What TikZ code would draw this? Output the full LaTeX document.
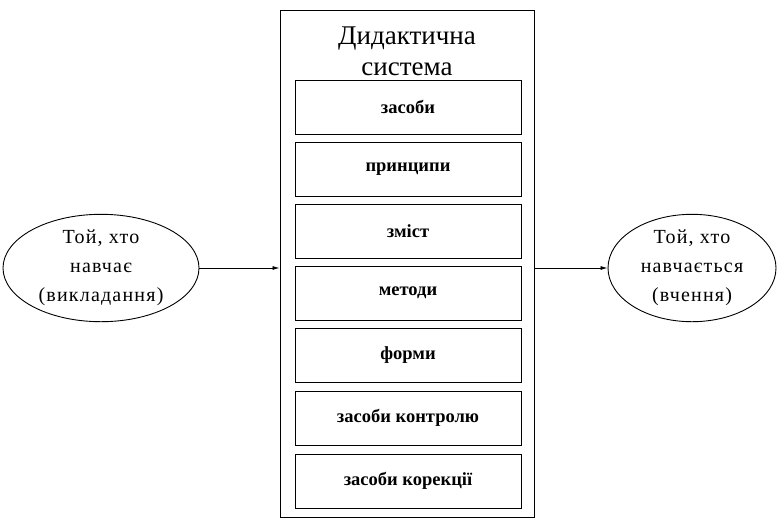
\documentclass[tikz,border=0pt]{standalone}
\usepackage{fontspec}
\setmainfont{Liberation Serif}
\newfontfamily\spacedserif[LetterSpace=6]{Liberation Serif}
\usetikzlibrary{shapes.geometric,arrows.meta}
\begin{document}
\begin{tikzpicture}[x=1pt,y=-1pt,
  outerbox/.style={draw,line width=0.9pt},
  itembox/.style={draw,line width=0.9pt,minimum width=226pt,minimum height=54pt,inner sep=0pt,font=\fontsize{18.5}{20}\selectfont\bfseries},
  actor/.style={draw,ellipse,line width=0.9pt,inner sep=0pt,align=center,font=\spacedserif\fontsize{20}{29}\selectfont},
  flow/.style={-{Latex[length=7pt,width=4pt]},line width=0.8pt}]
\useasboundingbox (0,0) rectangle (778,520);
\node[outerbox,minimum width=254pt,minimum height=507pt,inner sep=0pt] (sys) at (407,263.5) {};
\node[font=\fontsize{27}{31}\selectfont,align=center] (title) at (407,51) {Дидактична\\система};
\node[itembox] (b1) at (408,107) {засоби};
\node[itembox] (b2) at (408,169) {принципи};
\node[itembox] (b3) at (408,231) {зміст};
\node[itembox] (b4) at (408,293) {методи};
\node[itembox] (b5) at (408,355) {форми};
\node[itembox] (b6) at (408,418) {засоби контролю};
\node[itembox] (b7) at (408,481) {засоби корекції};
\node[actor,minimum width=196pt,minimum height=99pt] (t) at (101,268) {Той, хто\\навчає\\(викладання)};
\node[actor,minimum width=168pt,minimum height=106pt] (s) at (692,268) {Той, хто\\навчається\\(вчення)};
\draw[flow] (t.east) -- (t.east -| sys.west);
\draw[flow] (s.west -| sys.east) -- (s.west);
\end{tikzpicture}
\end{document}
